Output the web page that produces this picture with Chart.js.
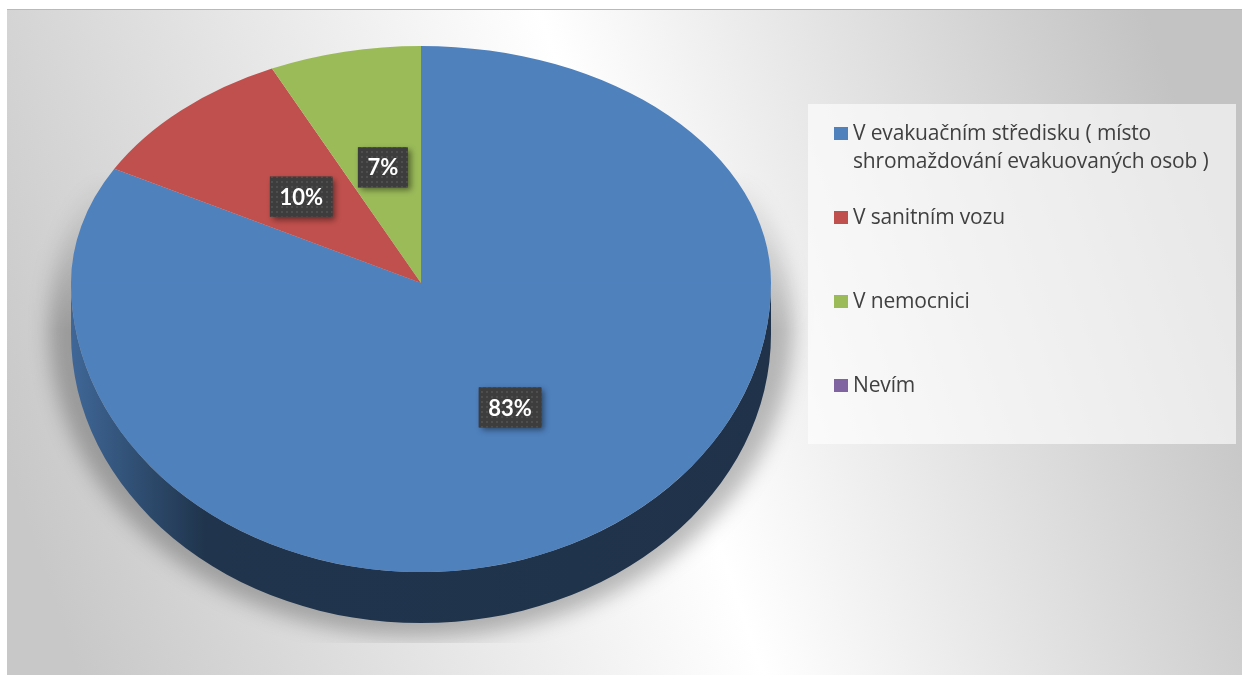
<!DOCTYPE html>
<html lang="cs">
<head>
<meta charset="utf-8">
<title>Místo ošetření</title>
<script src="https://cdn.jsdelivr.net/npm/chart.js@4/dist/chart.umd.min.js"></script>
<style>
  html, body { margin: 0; padding: 0; background: #ffffff; }
  #wrap { position: relative; width: 1242px; height: 675px; overflow: hidden; }
  #c { position: absolute; left: 0; top: 0; }
  #legend {
    position: absolute; left: 808px; top: 104px; width: 428px; height: 340px;
    background: rgba(255,255,255,0.62);
    font-family: "Open Sans", Lato, sans-serif; font-size: 21px; line-height: 28px; color: #404040;
  }
  .item { position: absolute; left: 26px; }
  .mark { position: absolute; left: 0; top: 9px; width: 14px; height: 13px; }
  .txt { position: absolute; left: 19px; top: 0; width: 392px; white-space: normal; letter-spacing: -0.15px; }
</style>
</head>
<body>
<div id="wrap">
  <canvas id="c" width="1242" height="675"></canvas>
  <div id="legend"></div>
</div>
<script>
// Categories, shares (in %) and slice colours
const labels = [
  'V evakuačním středisku ( místo shromaždování evakuovaných osob )',
  'V sanitním vozu',
  'V nemocnici',
  'Nevím'
];
const shares = [83, 10, 7, 0];
const sliceColors = ['#4f81bd', '#c0504d', '#9bbb59', '#8064a2'];

// Look of the tilted pie
const FAR_TILT = 0.677;   // vertical squash of the far (upper) half
const NEAR_TILT = 0.826;  // vertical squash of the near (lower) half
const DEPTH = 51;         // thickness of the pie's rim

function shade(hex, f) {
  const n = parseInt(hex.slice(1), 16);
  const r = Math.round(((n >> 16) & 255) * f);
  const g = Math.round(((n >> 8) & 255) * f);
  const b = Math.round((n & 255) * f);
  return `rgb(${r},${g},${b})`;
}

function dotPattern(ctx) {
  const t = document.createElement('canvas');
  t.width = 5; t.height = 5;
  const g = t.getContext('2d');
  g.fillStyle = '#3d3d3d'; g.fillRect(0, 0, 5, 5);
  g.fillStyle = '#4e4e4e'; g.fillRect(1, 1, 2, 2);
  return ctx.createPattern(t, 'repeat');
}

const pie3d = {
  id: 'pie3d',
  beforeDraw(chart) {
    const ctx = chart.ctx;
    ctx.save();
    const grad = ctx.createLinearGradient(40, 560, 1200, 170);
    grad.addColorStop(0, '#c8c8c8');
    grad.addColorStop(0.53, '#ffffff');
    grad.addColorStop(1, '#c3c3c3');
    ctx.fillStyle = grad;
    ctx.fillRect(7, 9, 1235, 666);
    ctx.fillStyle = '#b9b9b9';
    ctx.fillRect(7, 9, 1235, 1);
    ctx.restore();
  },
  beforeDatasetsDraw(chart) {
    const ctx = chart.ctx;
    const arcs = chart.getDatasetMeta(0).data;
    const { x: cx, y: cy, outerRadius: R } = arcs[0];
    const ryNear = R * NEAR_TILT;

    // soft shadow under the near side, faded out towards the top
    const off = document.createElement('canvas');
    off.width = chart.width; off.height = chart.height;
    const o = off.getContext('2d');
    o.filter = 'blur(10px)';
    o.fillStyle = 'rgba(0,0,0,0.26)';
    o.beginPath();
    o.ellipse(cx, cy + 45, R + 22, ryNear + 20, 0, 0, Math.PI * 2);
    o.fill();
    o.filter = 'none';
    o.globalCompositeOperation = 'destination-in';
    const fade = o.createLinearGradient(0, 170, 0, 330);
    fade.addColorStop(0, 'rgba(0,0,0,0)');
    fade.addColorStop(1, 'rgba(0,0,0,1)');
    o.fillStyle = fade;
    o.fillRect(0, 0, chart.width, 643);
    ctx.drawImage(off, 0, 0);

    // rim: visible only on the near half (canvas angles 0..PI)
    arcs.forEach((arc) => {
      const col = arc.options.backgroundColor;
      for (const k of [-2 * Math.PI, 0, 2 * Math.PI]) {
        const a = Math.max(arc.startAngle, k);
        const b = Math.min(arc.endAngle, Math.PI + k);
        if (b - a <= 0.0001) continue;
        const g = ctx.createLinearGradient(cx - R, 0, cx + R, 0);
        g.addColorStop(0, shade(col, 0.8));
        g.addColorStop(0.19, shade(col, 0.41));
        g.addColorStop(1, shade(col, 0.39));
        ctx.save();
        ctx.fillStyle = g;
        ctx.beginPath();
        ctx.ellipse(cx, cy, R, ryNear, 0, a, b, false);
        ctx.ellipse(cx, cy + DEPTH, R, ryNear, 0, b, a, true);
        ctx.closePath();
        ctx.fill();
        ctx.restore();
      }
    });

    // top face: far half and near half squashed differently
    const halves = [
      { y0: 0, y1: cy + 0.5, k: FAR_TILT },
      { y0: cy - 0.5, y1: chart.height, k: NEAR_TILT }
    ];
    halves.forEach((h) => {
      ctx.save();
      ctx.beginPath();
      ctx.rect(0, h.y0, chart.width, h.y1 - h.y0);
      ctx.clip();
      ctx.translate(cx, cy);
      ctx.scale(1, h.k);
      ctx.translate(-cx, -cy);
      arcs.forEach((arc) => arc.draw(ctx));
      ctx.restore();
    });
    return false;
  },
  afterDraw(chart) {
    const ctx = chart.ctx;
    const arcs = chart.getDatasetMeta(0).data;
    const values = chart.data.datasets[0].data;
    const pattern = dotPattern(ctx);
    arcs.forEach((arc, i) => {
      if (!values[i]) return;
      const p = arc.tooltipPosition();
      const k = p.y < arc.y ? FAR_TILT : NEAR_TILT;
      const x = p.x;
      const y = arc.y + (p.y - arc.y) * k;
      const text = values[i] + '%';
      ctx.save();
      ctx.font = 'bold 22px Lato, "Open Sans", sans-serif';
      const w = ctx.measureText(text).width + 19;
      const h = 40;
      ctx.shadowColor = 'rgba(0,0,0,0.45)';
      ctx.shadowBlur = 6;
      ctx.shadowOffsetX = 3;
      ctx.shadowOffsetY = 3;
      ctx.fillStyle = '#3d3d3d';
      ctx.fillRect(x - w / 2, y - h / 2, w, h);
      ctx.shadowColor = 'transparent';
      ctx.fillStyle = pattern;
      ctx.fillRect(x - w / 2, y - h / 2, w, h);
      ctx.fillStyle = '#ffffff';
      ctx.textAlign = 'center';
      ctx.textBaseline = 'middle';
      ctx.fillText(text, x, y + 1);
      ctx.restore();
    });
  }
};

new Chart(document.getElementById('c'), {
  type: 'pie',
  data: {
    labels: labels,
    datasets: [{
      data: shares,
      backgroundColor: sliceColors,
      borderWidth: 0,
      radius: 350
    }]
  },
  options: {
    responsive: false,
    devicePixelRatio: 1,
    animation: false,
    events: [],
    layout: { padding: { left: 0, top: 0, right: 400, bottom: 109 } },
    plugins: {
      legend: { display: false },
      tooltip: { enabled: false }
    }
  },
  plugins: [pie3d]
});

// Legend entries
const legendTops = [14, 98, 182, 266];
const legend = document.getElementById('legend');
labels.forEach((lab, i) => {
  const item = document.createElement('div');
  item.className = 'item';
  item.style.top = legendTops[i] + 'px';
  const m = document.createElement('div');
  m.className = 'mark';
  m.style.background = sliceColors[i];
  const t = document.createElement('div');
  t.className = 'txt';
  t.textContent = lab;
  item.appendChild(m);
  item.appendChild(t);
  legend.appendChild(item);
});
</script>
</body>
</html>
